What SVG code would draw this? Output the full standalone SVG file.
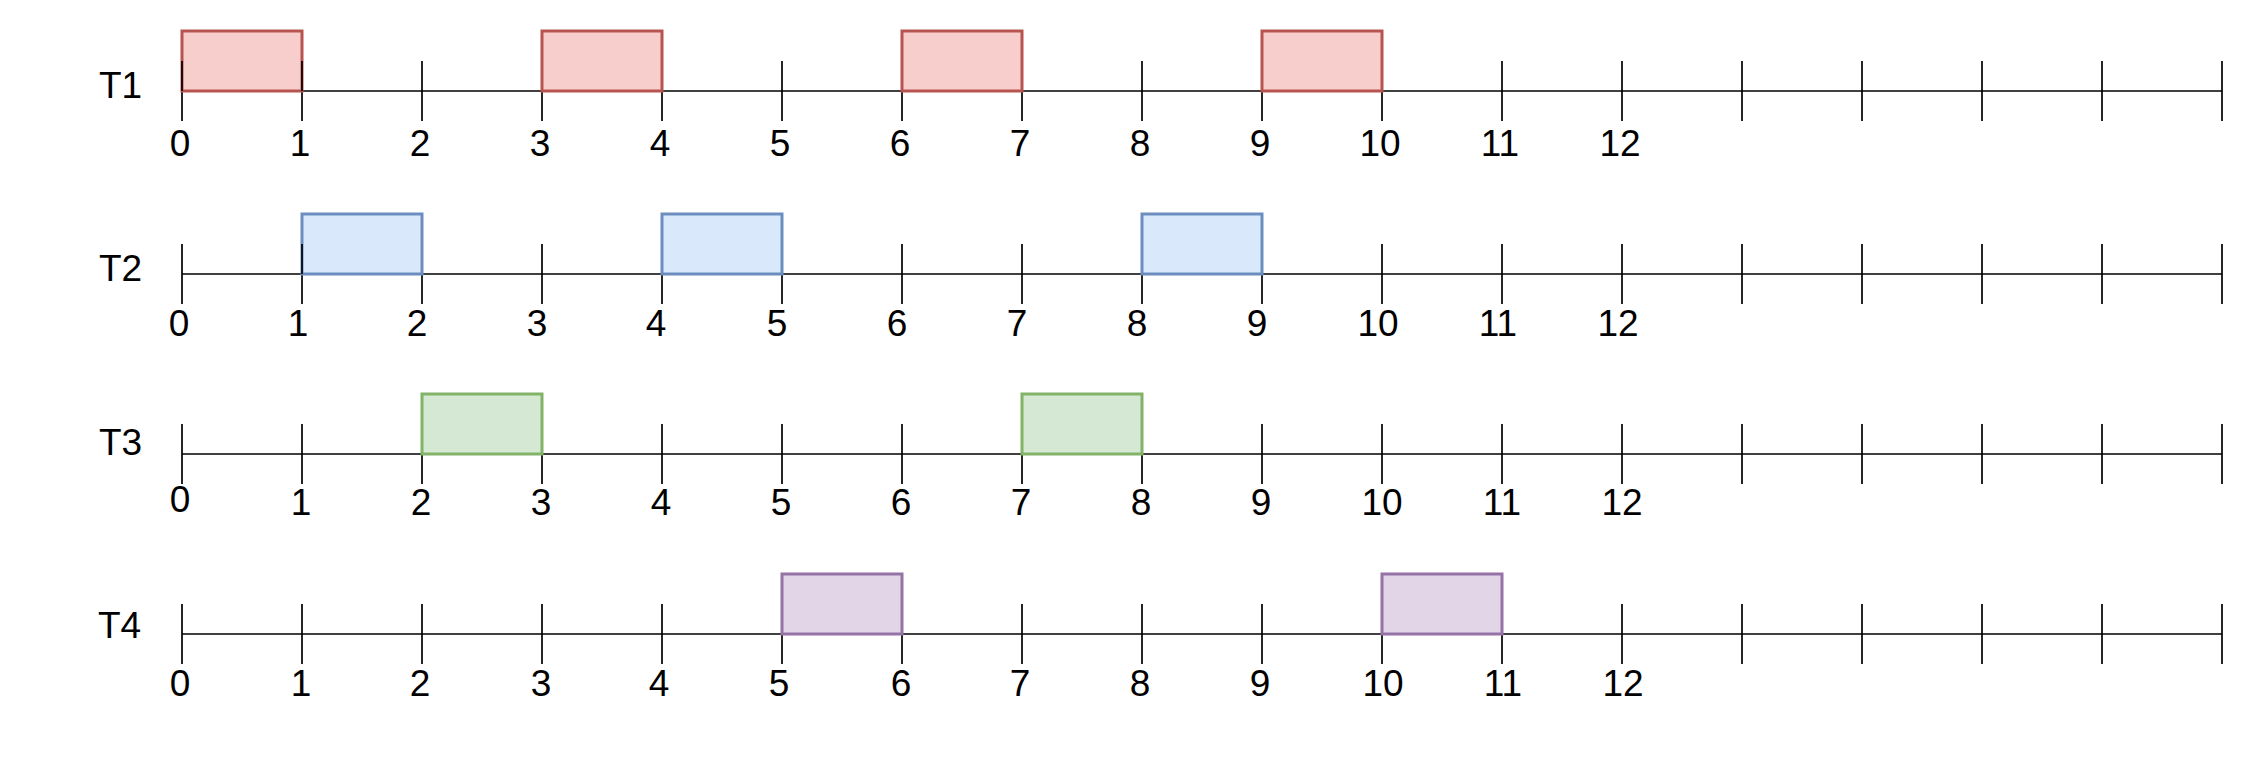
<svg xmlns="http://www.w3.org/2000/svg" width="2253" height="768" viewBox="0 0 2253 768">
<style>
.axis{stroke:#000;stroke-width:1.5;fill:none}
.tick{stroke:#000;stroke-width:1.7;fill:none}
.lbl{font-family:"Liberation Sans",Arial,sans-serif;font-size:37px;fill:#000}
.num{font-family:"Liberation Sans",Arial,sans-serif;font-size:37px;fill:#000;text-anchor:middle}
.red{fill:#f8cecc;stroke:#b85450;stroke-width:3}
.blue{fill:#dae8fc;stroke:#6c8ebf;stroke-width:3}
.green{fill:#d5e8d4;stroke:#82b366;stroke-width:3}
.purple{fill:#e1d5e7;stroke:#9673a6;stroke-width:3}
</style>
<defs>
<g id="ticks">
<path class="tick" d="M182,-30V30M302,-30V30M422,-30V30M542,-30V30M662,-30V30M782,-30V30M902,-30V30M1022,-30V30M1142,-30V30M1262,-30V30M1382,-30V30M1502,-30V30M1622,-30V30M1742,-30V30M1862,-30V30M1982,-30V30M2102,-30V30M2222,-30V30"/>
<path class="axis" d="M182,0H2222"/>
</g>
</defs>
<rect width="2253" height="768" fill="#fff"/>
<g id="connectors">
<use href="#ticks" y="91"/>
<use href="#ticks" y="274"/>
<use href="#ticks" y="454"/>
<use href="#ticks" y="634"/>
</g>
<g id="row-T1">
<text class="lbl" x="99" y="98">T1</text>
<rect class="red" x="182" y="31" width="120" height="60"/>
<rect class="red" x="542" y="31" width="120" height="60"/>
<rect class="red" x="902" y="31" width="120" height="60"/>
<rect class="red" x="1262" y="31" width="120" height="60"/>
<path class="tick" d="M182,61V91M302,61V91"/>
<g class="num">
<text x="180" y="156">0</text><text x="300" y="156">1</text><text x="420" y="156">2</text><text x="540" y="156">3</text><text x="660" y="156">4</text><text x="780" y="156">5</text><text x="900" y="156">6</text><text x="1020" y="156">7</text><text x="1140" y="156">8</text><text x="1260" y="156">9</text><text x="1380" y="156">10</text><text x="1500" y="156">11</text><text x="1620" y="156">12</text>
</g>
</g>
<g id="row-T2">
<text class="lbl" x="99" y="281">T2</text>
<rect class="blue" x="302" y="214" width="120" height="60"/>
<rect class="blue" x="662" y="214" width="120" height="60"/>
<rect class="blue" x="1142" y="214" width="120" height="60"/>
<path class="tick" d="M302,244V274"/>
<g class="num">
<text x="179" y="336">0</text><text x="298" y="336">1</text><text x="417" y="336">2</text><text x="537" y="336">3</text><text x="656" y="336">4</text><text x="777" y="336">5</text><text x="897" y="336">6</text><text x="1017" y="336">7</text><text x="1137" y="336">8</text><text x="1257" y="336">9</text><text x="1378" y="336">10</text><text x="1498" y="336">11</text><text x="1618" y="336">12</text>
</g>
</g>
<g id="row-T3">
<text class="lbl" x="99" y="455">T3</text>
<rect class="green" x="422" y="394" width="120" height="60"/>
<rect class="green" x="1022" y="394" width="120" height="60"/>
<g class="num">
<text x="180" y="512">0</text><text x="301" y="515">1</text><text x="421" y="515">2</text><text x="541" y="515">3</text><text x="661" y="515">4</text><text x="781" y="515">5</text><text x="901" y="515">6</text><text x="1021" y="515">7</text><text x="1141" y="515">8</text><text x="1261" y="515">9</text><text x="1382" y="515">10</text><text x="1502" y="515">11</text><text x="1622" y="515">12</text>
</g>
</g>
<g id="row-T4">
<text class="lbl" x="98" y="638">T4</text>
<rect class="purple" x="782" y="574" width="120" height="60"/>
<rect class="purple" x="1382" y="574" width="120" height="60"/>
<g class="num">
<text x="180" y="696">0</text><text x="301" y="696">1</text><text x="420" y="696">2</text><text x="541" y="696">3</text><text x="659" y="696">4</text><text x="779" y="696">5</text><text x="901" y="696">6</text><text x="1020" y="696">7</text><text x="1140" y="696">8</text><text x="1260" y="696">9</text><text x="1383" y="696">10</text><text x="1503" y="696">11</text><text x="1623" y="696">12</text>
</g>
</g>
</svg>
